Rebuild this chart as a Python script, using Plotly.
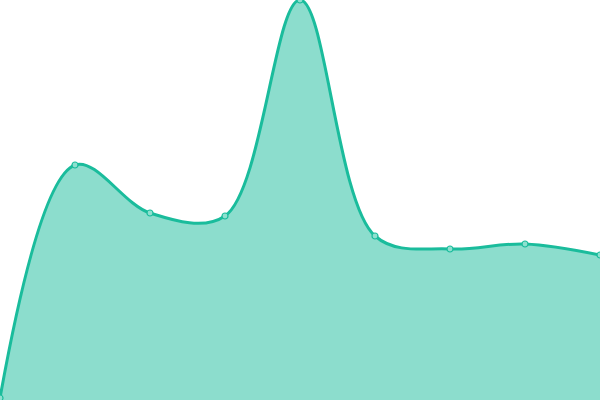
import plotly.graph_objects as go

x_vals = [0, 1, 2, 3, 4, 5, 6, 7, 8]
y_vals = [2, 235, 187, 184, 400, 164, 151, 156, 145]

fig = go.Figure()
fig.add_trace(go.Scatter(
    x=x_vals, y=y_vals,
    mode="lines+markers",
    line=dict(shape="spline", smoothing=1.0, color="#1abc9c", width=3),
    marker=dict(size=6, color="#8ee0cf", line=dict(color="#1abc9c", width=1.2)),
    fill="tozeroy",
    fillcolor="rgba(26,188,156,0.5)",
))
fig.update_layout(
    width=600, height=400,
    margin=dict(l=0, r=0, t=0, b=0),
    paper_bgcolor="white", plot_bgcolor="white",
    showlegend=False,
    xaxis=dict(visible=False, range=[0, 8]),
    yaxis=dict(visible=False, range=[0, 400]),
)
fig.write_html("out.html", config={"displayModeBar": False},
               post_script="document.body.style.margin='0';")
